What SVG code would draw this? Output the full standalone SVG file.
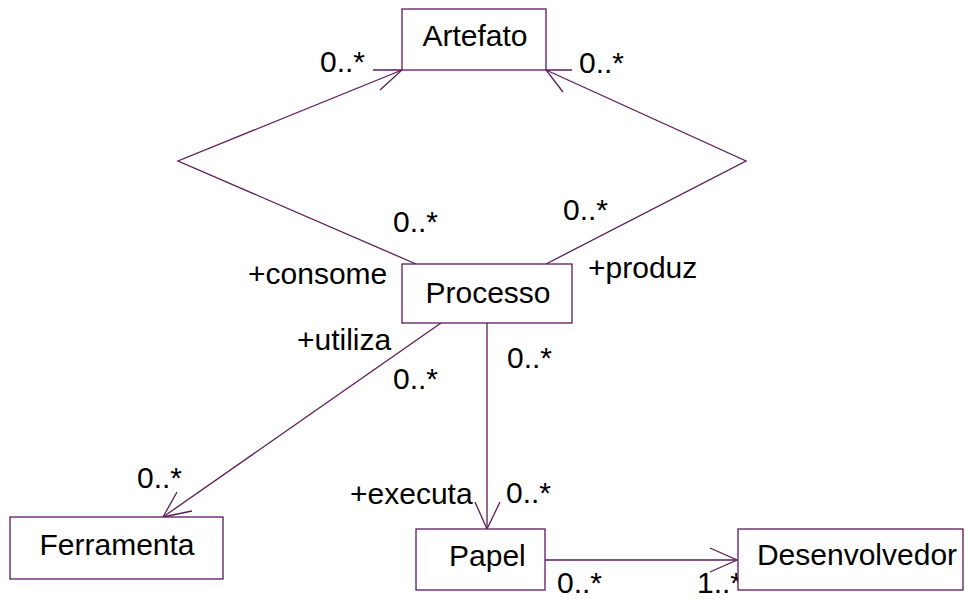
<svg xmlns="http://www.w3.org/2000/svg" width="965" height="599" viewBox="0 0 965 599">
<style>
.box{fill:#fff;stroke:#5c1a5c;stroke-width:1.3}
.ln{fill:none;stroke:#5c1a5c;stroke-width:1.3}
text{font-family:"Liberation Sans",Arial,sans-serif;font-size:30px;fill:#000}
.c{text-anchor:middle}
</style>
<rect width="965" height="599" fill="#fff"/>
<g id="connectors">
<polyline class="ln" points="416,264 178,161 402,70"/>
<polyline class="ln" points="373,70 402,70 380,90"/>
<polyline class="ln" points="546,264 746,161 546,70"/>
<polyline class="ln" points="572,70 546,70 563,92"/>
<line class="ln" x1="441" y1="323" x2="163" y2="517"/>
<polyline class="ln" points="177,492 163,517 192,511"/>
<line class="ln" x1="487" y1="323" x2="487" y2="529"/>
<polyline class="ln" points="475,502 487,529 500,502"/>
<line class="ln" x1="545" y1="560" x2="737" y2="560"/>
<polyline class="ln" points="710,548 737,560 710,572"/>
<text x="320" y="72">0..*</text>
<text x="579" y="73">0..*</text>
<text x="393" y="232">0..*</text>
<text x="563" y="220">0..*</text>
<text x="248" y="284">+consome</text>
<text x="588" y="278">+produz</text>
<text x="297" y="350">+utiliza</text>
<text x="393" y="389">0..*</text>
<text x="507" y="368">0..*</text>
<text x="137" y="488">0..*</text>
<text x="350" y="504">+executa</text>
<text x="506" y="503">0..*</text>
<text x="557" y="593">0..*</text>
<text x="697" y="593">1..*</text>
</g>
<g id="artefato"><rect class="box" x="402" y="9" width="144" height="61"/><text class="c" x="475" y="46">Artefato</text></g>
<g id="processo"><rect class="box" x="402" y="264" width="170" height="59"/><text class="c" x="488" y="303">Processo</text></g>
<g id="ferramenta"><rect class="box" x="10" y="517" width="213" height="62"/><text class="c" x="117" y="555">Ferramenta</text></g>
<g id="papel"><rect class="box" x="416" y="529" width="129" height="61"/><text x="449" y="566">Papel</text></g>
<g id="desenvolvedor"><rect class="box" x="738" y="529" width="225" height="61"/><text class="c" x="857" y="565">Desenvolvedor</text></g>
</svg>
